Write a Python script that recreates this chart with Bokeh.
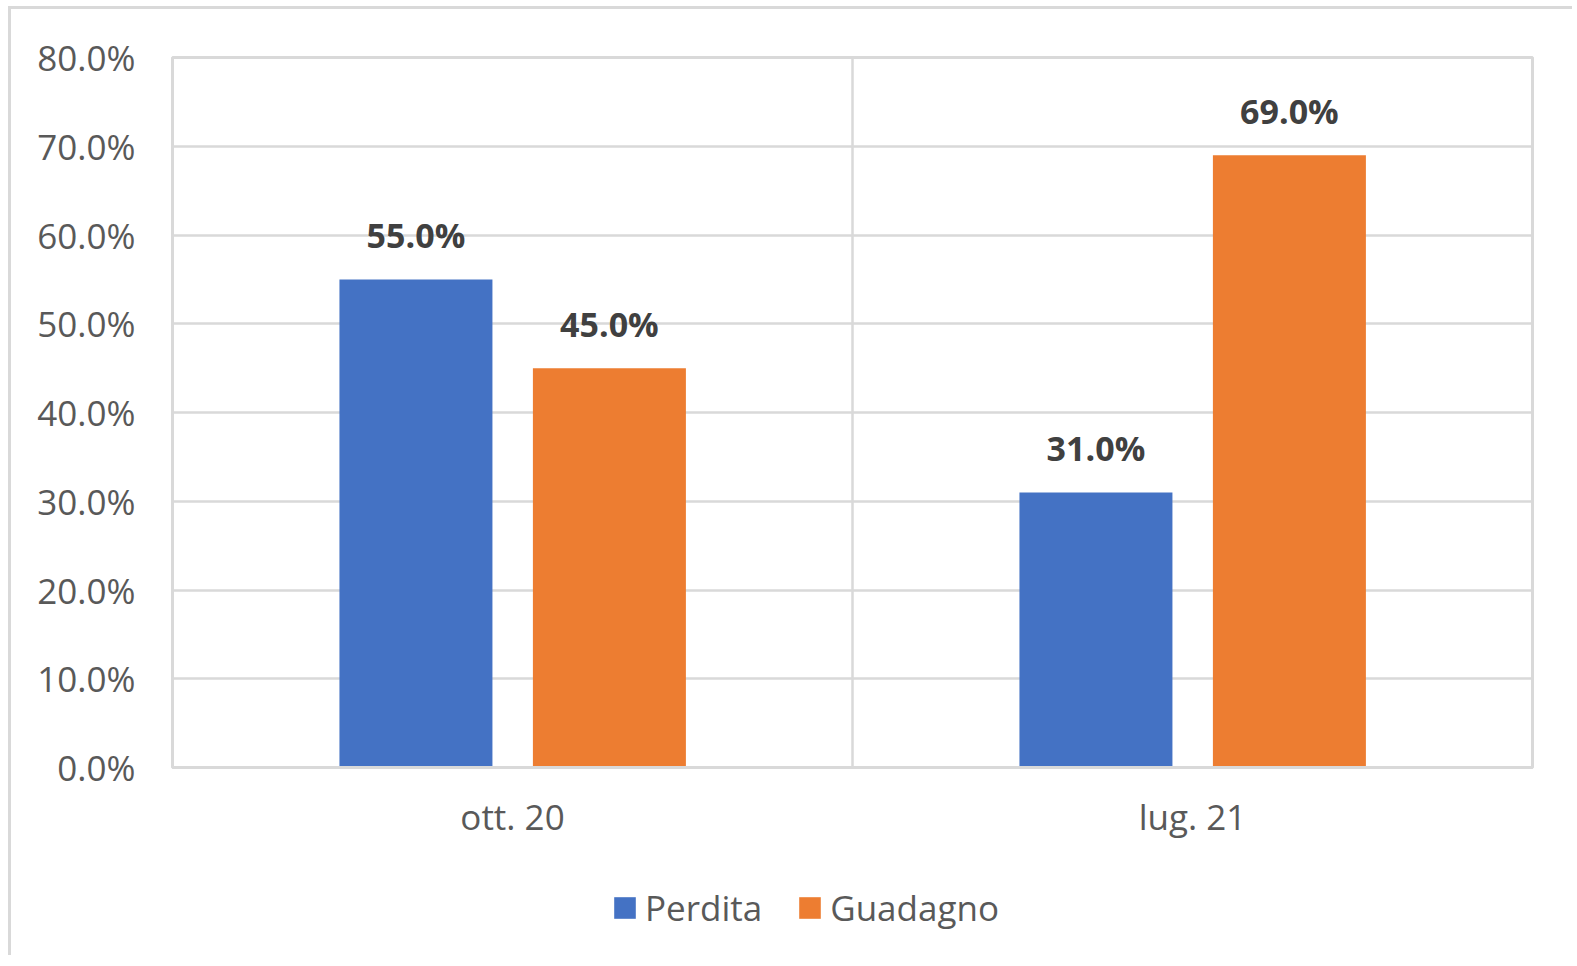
from bokeh.plotting import figure
from bokeh.layouts import column
from bokeh.models import (FactorRange, ColumnDataSource, Span, Legend, LegendItem,
                          FixedTicker, NumeralTickFormatter, LabelSet)
from bokeh.transform import dodge
from bokeh.core.properties import value
from bokeh.embed import file_html
from bokeh.resources import INLINE

categories = ["ott. 20", "lug. 21"]
series_names = ["Perdita", "Guadagno"]
perdita = [0.55, 0.31]
guadagno = [0.45, 0.69]
y_ticks = [0.0, 0.1, 0.2, 0.3, 0.4, 0.5, 0.6, 0.7, 0.8]

FONT = "Open Sans"
BLUE = "#4472C4"
ORANGE = "#ED7D31"
GRID = "#d9d9d9"
TICK_COLOR = "#595959"
LABEL_COLOR = "#404040"

src = ColumnDataSource(data=dict(
    cat=categories,
    perdita=perdita,
    guadagno=guadagno,
    perdita_lbl=[f"{v*100:.1f}%" for v in perdita],
    guadagno_lbl=[f"{v*100:.1f}%" for v in guadagno],
))

p = figure(
    x_range=FactorRange(factors=categories, range_padding=0),
    y_range=(0, 0.8),
    width=1561, height=851,
    output_backend="svg", toolbar_location=None,
    min_border_left=161, min_border_right=40,
    min_border_top=48, min_border_bottom=93,
    background_fill_color="white", border_fill_color="white",
)

p.outline_line_color = GRID
p.outline_line_width = 3

# bars
r1 = p.vbar(x=dodge("cat", -0.142, range=p.x_range), top="perdita", width=0.225,
            source=src, fill_color=BLUE, line_color=None)
r2 = p.vbar(x=dodge("cat", 0.1425, range=p.x_range), top="guadagno", width=0.225,
            source=src, fill_color=ORANGE, line_color=None)

# data labels
for col, lbl, off in [("perdita", "perdita_lbl", -0.142), ("guadagno", "guadagno_lbl", 0.1425)]:
    ls = LabelSet(x=dodge("cat", off, range=p.x_range), y=col, text=lbl, source=src,
                  text_align="center", text_baseline="alphabetic", y_offset=31,
                  text_font=value(FONT), text_font_style="bold",
                  text_font_size="34px", text_color=LABEL_COLOR)
    p.add_layout(ls)

# vertical separator between categories
p.add_layout(Span(location=1, dimension="height", line_color=GRID, line_width=2.5))

# grid
p.xgrid.grid_line_color = None
p.ygrid.grid_line_color = GRID
p.ygrid.grid_line_width = 2.5
p.ygrid.ticker = FixedTicker(ticks=y_ticks)

# y axis
p.yaxis.ticker = FixedTicker(ticks=y_ticks)
p.yaxis.formatter = NumeralTickFormatter(format="0.0%")
p.yaxis.axis_line_color = None
p.yaxis.major_tick_line_color = None
p.yaxis.minor_tick_line_color = None
p.yaxis.major_label_standoff = 31
p.yaxis.major_label_text_font = FONT
p.yaxis.major_label_text_font_size = "35px"
p.yaxis.major_label_text_color = TICK_COLOR

# x axis
p.xaxis.axis_line_color = GRID
p.xaxis.axis_line_width = 3
p.xaxis.major_tick_line_color = None
p.xaxis.minor_tick_line_color = None
p.xaxis.major_label_standoff = 19
p.xaxis.major_label_text_font = FONT
p.xaxis.major_label_text_font_size = "35px"
p.xaxis.major_label_text_color = TICK_COLOR

# legend strip below the chart (proxy renderers lie outside the visible range)
pl = figure(
    x_range=(0, 1), y_range=(0, 1),
    width=1561, height=95,
    output_backend="svg", toolbar_location=None,
    x_axis_type=None, y_axis_type=None,
    min_border=0, min_border_left=0, min_border_right=0,
    min_border_top=0, min_border_bottom=0,
    background_fill_color="white", border_fill_color="white",
)
pl.outline_line_color = None
pl.xgrid.visible = False
pl.ygrid.visible = False
proxy = ColumnDataSource(data=dict(x=[-5.0], top=[-5.0]))
lr1 = pl.vbar(x="x", top="top", width=0.1, source=proxy, fill_color=BLUE, line_color=None)
lr2 = pl.vbar(x="x", top="top", width=0.1, source=proxy, fill_color=ORANGE, line_color=None)

legend = Legend(
    items=[LegendItem(label=series_names[0], renderers=[lr1]),
           LegendItem(label=series_names[1], renderers=[lr2])],
    orientation="horizontal",
    location=(439, 24),
    border_line_color=None, background_fill_alpha=0,
    label_text_font=FONT, label_text_font_size="35px", label_text_color=TICK_COLOR,
    glyph_width=27, glyph_height=27, label_standoff=7, spacing=34,
    padding=0, margin=0,
)
pl.add_layout(legend)

layout = column(p, pl, spacing=0,
                styles={"border-top": "3px solid #d9d9d9", "border-left": "3px solid #d9d9d9",
                        "margin-left": "8px", "margin-top": "6px"})

open("out.html", "w").write(file_html(layout, INLINE))
